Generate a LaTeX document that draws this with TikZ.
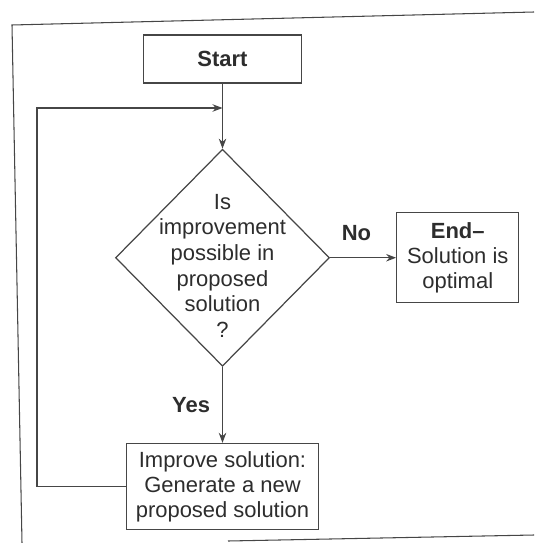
\documentclass[tikz,border=0pt]{standalone}
\usepackage{fontspec}
\setmainfont{Liberation Sans}
\usepackage{tikz}
\usetikzlibrary{shapes.geometric, arrows.meta, positioning, calc}
\usepackage{xcolor}
\definecolor{ink}{RGB}{45,45,45}
\definecolor{rule}{RGB}{70,70,70}

\begin{document}
\begin{tikzpicture}[
    node distance=1.3cm,
    box/.style={rectangle, draw=rule, line width=0.7pt, align=center, text=ink, font=\fontsize{12.5}{14.2}\selectfont},
    decision/.style={diamond, draw=rule, line width=0.7pt, inner sep=0pt, minimum width=4.28cm, minimum height=4.34cm},
    question/.style={align=center, text=ink, inner sep=0pt, font=\fontsize{12.5}{14.6}\selectfont},
    lbl/.style={text=ink, font=\fontsize{12.5}{14.2}\selectfont\bfseries},
    arr/.style={-{Stealth[length=2mm, width=1.5mm]}, line width=0.7pt, rule},
    frame/.style={line width=0.6pt, rule},
]
\useasboundingbox (0,0) rectangle (10.68,-10.86);

% page frame
\draw[frame] (0.44,-10.86) -- (0.24,-0.5) -- (10.68,-0.24);
\draw[frame] (4.56,-10.82) -- (10.68,-10.7);

% Start
\node[box, minimum width=3.16cm, minimum height=0.96cm] (start) at (4.45,-1.18) {\bfseries Start};

% Decision
\node[decision, below=1.3cm of start] (decision) {};
\node[question] (ask) at ([yshift=-0.16cm]decision.center) {Is\\improvement\\possible in\\proposed\\solution\\?};

% End
\node[box, minimum width=2.44cm, minimum height=1.8cm, right=1.32cm of decision] (stop) {\bfseries End--\\Solution is\\optimal};

% Improve
\node[box, minimum width=3.84cm, minimum height=1.72cm, below=1.52cm of decision] (improve) {Improve solution:\\Generate a new\\proposed solution};

% Loop back
\coordinate (corner) at (0.74,-2.16);
\coordinate (join) at (start.south |- corner);

% Arrows
\draw[arr] (start) -- (decision);
\draw[arr] (decision) -- node[lbl, above=0.22cm, pos=0.4] {No} (stop);
\draw[arr] (decision) -- node[lbl, left=0.12cm] {Yes} (improve);
\draw[arr] (improve.west) -| (corner) -- (join);

\end{tikzpicture}
\end{document}
